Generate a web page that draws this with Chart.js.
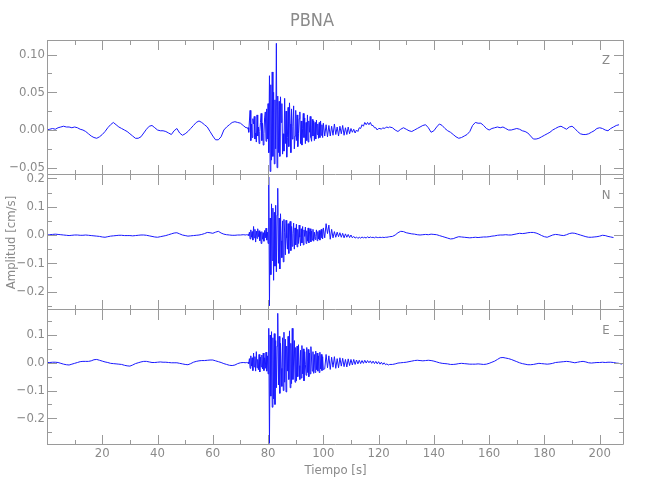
<!DOCTYPE html>
<html>
<head>
<meta charset="utf-8">
<title>PBNA</title>
<script src="https://cdn.jsdelivr.net/npm/chart.js@4.4.1/dist/chart.umd.min.js"></script>
<style>
  html, body { margin: 0; background: #fff; }
  #wrap { position: relative; width: 650px; height: 500px; }
  .panel { position: absolute; left: 0; width: 650px; }
</style>
</head>
<body>
<div id="wrap">
  <div class="panel" style="top:0;height:175px"><canvas id="chartZ"></canvas></div>
  <div class="panel" style="top:165px;height:145px"><canvas id="chartN"></canvas></div>
  <div class="panel" style="top:310px;height:190px"><canvas id="chartE"></canvas></div>
</div>
<script>
// sampling of the traces: [start, end, step] in seconds
const timeSegments = [[0, 72, 1], [72.25, 100, 0.25], [100.5, 124, 0.5], [125, 208, 1]];

// amplitudes, in 1e-3 cm/s, one array per time segment
const zPre = [0,1,2,1,3,4,5,4,4,3, 4,3,1,0,-2,-5,-8,-10,-11,-9, -6,-2,3,7,10,7,4,2,0,-2,
  -5,-8,-11,-11,-9,-4,1,5,6,3, 0,-1,-1,-2,-4,-6,-1,2,-4,-7, -5,-2,2,6,10,12,10,7,4,-2,
  -8,-13,-13,-9,0,4,7,10,11,10, 9,6,3];
const zMain = [4,2,3,-3,12,26,-14,8, -10,15,8,18,-12,-4,-16,20, -8,4,-18,-2,10,22,-14,9,
  -20,-5,16,24,-15,28,-12,35, -30,72,-55,60,-40,77,-35,50, -45,40,-25,115,-50,45,-30,38,
  -35,44,10,35,-32,-5,-28,42, -18,25,-36,-10,30,-22,36,8, -30,28,-12,5,32,-25,-8,26,
  -14,20,-22,-5,15,24,-18,12, -20,2,22,-10,16,-18,10,-14, 20,-16,12,-3,18,-10,-15,14,
  -8,12,-14,10,-12,13,-6,8, -11,10,-10,12,-7,7,-10,9];
const zCoda = [-8,7,-9,6,-8,5,-7,8, -6,4,-8,5,-5,6,-7,3, -6,4,-5,2,-3,1,-4,0,
  -2,3,2,7,5,10,7,10, 7,10,6,6,3,3,0,2, 2,1,3,2,3,4,3,4];
const zPost = [3,0,-2,1,3,1,-1,-2,0,2, 4,6,7,3,-3,-1,4,8,6,2, -1,-3,-6,-9,-11,-10,-8,-6,-2,6,
  10,9,9,6,2,0,2,3,4,3, 4,2,0,0,1,2,1,-1,-2,-4, -8,-12,-12,-11,-9,-7,-5,-3,0,2,
  4,5,3,1,4,5,2,-2,-5,-6, -6,-5,-3,-1,2,3,2,0,-1,2, 4,6,7];

const nPre = [0,1,2,3,2,1,0,-1,-2,-1, 0,0,-1,-1,0,-1,-2,-3,-4,-5, -7,-8,-6,-4,-3,-2,-1,-1,-2,-2,
  -2,-3,-2,-1,0,0,-1,-3,-5,-7, -8,-6,-4,-2,1,4,7,8,4,0, -2,-4,-3,-2,-1,0,2,5,9,8,
  6,10,13,7,3,1,0,-1,-1,0, 0,1,0];
const nMain = [1,0,2,-2,10,-14,18,-8, 12,-18,30,-10,20,-25,14,-12, 22,-6,15,-20,10,-30,12,-15,
  8,-22,16,-10,24,-18,10,-30, 205,-250,60,-140,110,-90,95,-160, 80,-110,105,-130,70,165,-100,60,
  -120,75,-20,-80,50,-95,55,10, -70,52,-10,-50,40,-65,35,48, -55,30,-40,5,42,-50,25,-35,
  38,-42,20,-30,35,-8,-38,22, -28,30,-35,18,-5,28,-30,15, -22,25,-28,12,22,-24,14,-18,
  20,-22,10,-16,-5,18,-20,12, -14,16,-18,10,20,-10,-14,25];
const nCoda = [-10,40,5,35,-15,20,-10,12, -8,10,-6,8,-8,6,-10,4, -8,2,-9,0,-10,-5,-11,-7,
  -12,-8,-11,-7,-10,-8,-11,-6, -10,-7,-9,-8,-10,-7,-9,-9, -8,-9,-8,-9,-8,-8,-7,-6];
const nPost = [-5,0,8,13,12,8,6,4,3,1, 0,1,2,1,3,2,1,-2,-5,-8, -11,-14,-13,-9,-6,-7,-8,-9,-10,-9,
  -8,-9,-8,-7,-7,-6,-4,-3,-1,0, 0,1,0,0,2,4,6,5,6,8, 9,9,7,3,-2,-6,-8,-4,0,2,
  1,-1,-2,1,5,7,6,3,0,-3, -6,-8,-8,-7,-6,-4,-1,-2,-5,-7, -9];

const ePre = [1,1,2,2,1,-2,-5,-7,-8,-5, -2,1,4,5,5,5,7,11,12,9, 6,3,1,-2,-3,-4,-5,-6,-9,-11,
  -12,-8,-3,0,3,5,5,3,1,1, 2,3,2,2,1,0,0,0,-2,-4, -6,-7,-3,2,5,7,8,8,9,10,
  10,7,4,1,-3,-6,-9,-10,-8,-3, 0,1,0];
const eMain = [1,-1,2,-3,15,-20,25,-12, 18,-28,35,-15,22,-30,40,-18, 12,-25,30,-33,20,-15,28,-22,
  35,-28,18,-20,38,-30,25,-40, 124,-290,100,-120,112,-160,90,-130, 105,-150,80,-90,60,178,-80,95,
  -110,70,-20,-85,90,-100,110,-70, 85,-105,60,-30,95,-60,115,-90, 70,-75,124,-60,10,80,-70,55,
  -65,60,-50,65,-10,-60,45,-55, 62,-40,50,-65,40,-5,-45,55, -35,48,-50,35,-40,58,10,-30,
  40,-38,30,-35,42,-25,35,-30, 25,-35,38,-22,30,-28,22,-25];
const eCoda = [-22,30,-18,25,-24,20,-16,22, -20,15,-18,18,-12,16,-14,12, -15,14,-10,12,-8,12,-6,10,
  -4,9,-3,8,-2,9,-1,8, 0,7,-2,6,-3,5,-4,4, -5,2,-6,0,-7,-4,-8,-6];
const ePost = [-6,-4,-1,0,1,2,4,6,8,9, 8,7,8,9,8,6,3,0,-2,-3, -4,-6,-6,-5,-3,-2,-3,-4,-5,-5,
  -5,-4,-5,-6,-5,-2,2,6,12,18, 19,17,15,12,8,4,0,-3,-5,-7, -7,-6,-4,-2,-3,-4,-5,-4,-2,1,
  2,3,4,5,4,2,0,2,4,5, 3,0,-1,0,1,1,2,1,2,2, 1,-1,-2,-5];

const fontFamily = "'Liberation Sans Narrow', 'DejaVu Sans Condensed', 'Liberation Sans', sans-serif";
const textColor = '#8a8a8a';
const axisColor = '#9a9a9a';
const traceColor = 'rgb(25,25,255)';
const xMax = 208.8;

function toPoints(segments) {
  const pts = [];
  segments.forEach((vals, k) => {
    const [start, , step] = timeSegments[k];
    vals.forEach((v, i) => pts.push({ x: start + i * step, y: v / 1000 }));
  });
  return pts;
}

function isMajor(v, major) {
  const r = v / major;
  return Math.abs(r - Math.round(r)) < 1e-6;
}

// no label overhang padding, so panels butt against each other
function noPad(s) {
  s.paddingTop = 0; s.paddingBottom = 0; s.paddingLeft = 0; s.paddingRight = 0;
}

// box with inward ticks on all four sides + component letter
const frameTicks = {
  id: 'frameTicks',
  afterDatasetsDraw(chart, args, opts) {
    const { ctx, chartArea: a, scales: { x, y } } = chart;
    ctx.save();
    ctx.strokeStyle = axisColor;
    ctx.lineWidth = 1;
    ctx.beginPath();
    const L = a.left + 0.5, R = a.right - 0.5, T = a.top + 0.5, B = a.bottom - 0.5;
    ctx.moveTo(L, a.top); ctx.lineTo(L, B); ctx.lineTo(R, B); ctx.lineTo(R, a.top);
    if (opts.topLine) { ctx.moveTo(L, T); ctx.lineTo(R, T); }
    y.ticks.forEach(t => {
      const py = Math.round(y.getPixelForValue(t.value)) + 0.5;
      const len = isMajor(t.value, opts.yMajor) ? 10 : 5;
      ctx.moveTo(a.left, py); ctx.lineTo(a.left + len, py);
      ctx.moveTo(a.right, py); ctx.lineTo(a.right - len, py);
    });
    x.ticks.forEach(t => {
      const px = Math.round(x.getPixelForValue(t.value)) + 0.5;
      const len = isMajor(t.value, 20) ? 10 : 5;
      ctx.moveTo(px, a.top); ctx.lineTo(px, a.top + len);
      ctx.moveTo(px, a.bottom); ctx.lineTo(px, a.bottom - len);
    });
    ctx.stroke();
    ctx.fillStyle = textColor;
    ctx.font = '13px ' + fontFamily;
    ctx.textAlign = 'center';
    ctx.textBaseline = 'middle';
    ctx.fillText(opts.label, a.right - 18, a.top + 21);
    ctx.restore();
  }
};

function makePanel(id, label, points, yMin, yMax, yStep, yMajor, digits, extra) {
  const bottomAxis = !!extra.xTitle;
  return new Chart(document.getElementById(id), {
    type: 'line',
    data: {
      datasets: [{
        data: points,
        borderColor: traceColor,
        borderWidth: 1,
        pointRadius: 0,
        tension: 0
      }]
    },
    options: {
      responsive: true,
      maintainAspectRatio: false,
      animation: false,
      events: [],
      layout: { padding: { left: 0, right: 26, top: extra.padTop || 0, bottom: 0 } },
      plugins: {
        legend: { display: false },
        tooltip: { enabled: false },
        title: extra.title ? {
          display: true,
          text: extra.title,
          color: textColor,
          font: { family: fontFamily, size: 18, weight: 'normal' },
          padding: { top: 11, bottom: 7.4 }
        } : { display: false },
        frameTicks: { label: label, yMajor: yMajor, topLine: !!extra.title }
      },
      scales: {
        x: {
          type: 'linear',
          min: 0,
          max: xMax,
          grid: { display: false, drawTicks: false },
          border: { display: false },
          ticks: {
            display: bottomAxis,
            stepSize: 10,
            includeBounds: false,
            autoSkip: false,
            maxRotation: 0,
            maxTicksLimit: 100,
            padding: 1,
            color: textColor,
            font: { family: fontFamily, size: 13 },
            callback: v => (isMajor(v, 20) && v > 0 ? String(v) : '')
          },
          title: bottomAxis ? {
            display: true,
            text: extra.xTitle,
            color: textColor,
            font: { family: fontFamily, size: 13 },
            padding: { top: 0, bottom: 22 }
          } : { display: false },
          afterFit: s => { s.height = bottomAxis ? 55 : 0; noPad(s); }
        },
        y: {
          min: yMin,
          max: yMax,
          grid: { display: false, drawTicks: false },
          border: { display: false },
          ticks: {
            stepSize: yStep,
            includeBounds: false,
            autoSkip: false,
            maxTicksLimit: 100,
            padding: 2,
            color: textColor,
            font: { family: fontFamily, size: 13 },
            callback: v => {
              if (!isMajor(v, yMajor)) return '';
              const r = Math.round(v / yMajor) * yMajor;
              return (r < 0 ? '\u2212' : '') + Math.abs(r).toFixed(digits);
            }
          },
          title: extra.yTitle ? {
            display: true,
            text: extra.yTitle,
            color: textColor,
            font: { family: fontFamily, size: 13 }
          } : { display: false },
          afterFit: s => { s.width = 47; noPad(s); }
        }
      }
    },
    plugins: [frameTicks]
  });
}

makePanel('chartZ', 'Z', toPoints([zPre, zMain, zCoda, zPost]), -0.0597, 0.1194, 0.025, 0.05, 2,
  { title: 'PBNA' });
makePanel('chartN', 'N', toPoints([nPre, nMain, nCoda, nPost]), -0.265, 0.212, 0.05, 0.1, 1,
  { yTitle: 'Amplitud [cm/s]', padTop: 10 });
makePanel('chartE', 'E', toPoints([ePre, eMain, eCoda, ePost]), -0.296, 0.19, 0.05, 0.1, 1,
  { xTitle: 'Tiempo [s]' });
</script>
</body>
</html>
